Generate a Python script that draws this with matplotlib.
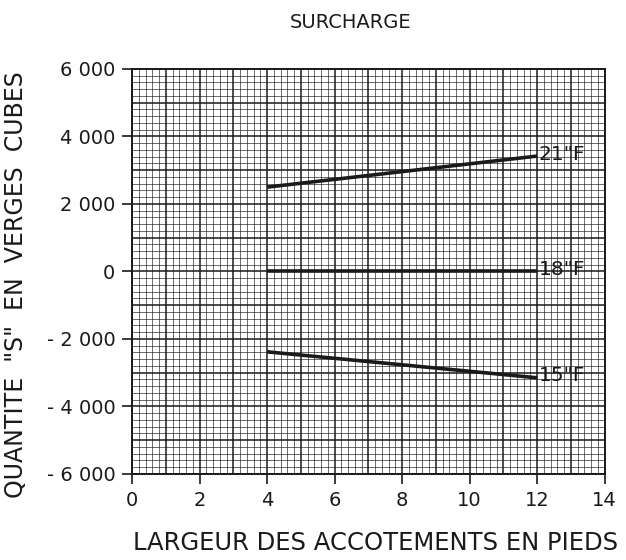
import numpy as np
import matplotlib
matplotlib.use("Agg")
from matplotlib import pyplot as plt
from matplotlib.ticker import MultipleLocator, FuncFormatter

# values
largeur = [4, 12]
s_21 = [2500, 3420]
s_18 = [0, 0]
s_15 = [-2380, -3150]
labels = ['21"F', '18"F', '15"F']

plt.rcParams['font.family'] = ['DejaVu Sans']

fig = plt.figure(figsize=(6.26, 5.6), dpi=100)
fig.patch.set_facecolor("white")
ax = fig.add_axes([0.211, 0.1536, 0.755, 0.7232])

ink = "#1a1a1a"
ax.set_xlim(0, 14)
ax.set_ylim(-6000, 6000)

# graph paper
ax.xaxis.set_major_locator(MultipleLocator(2))
ax.yaxis.set_major_locator(MultipleLocator(2000))
for x in np.arange(0, 14.01, 0.2):
    heavy = abs(x - round(x)) < 1e-6
    ax.axvline(x, color=ink, lw=1.1 if heavy else 0.45, zorder=1)
for y in np.arange(-6000, 6001, 200):
    heavy = y % 1000 == 0
    ax.axhline(y, color=ink, lw=1.1 if heavy else 0.45, zorder=1)

for serie, lab in zip([s_21, s_18, s_15], labels):
    ax.plot(largeur, serie, color=ink, lw=2.6, solid_capstyle="butt", zorder=3)
    ax.text(largeur[-1] + 0.05, serie[-1] + 60, lab, fontsize=14.5, color=ink,
            va="center", ha="left", zorder=4)

def fmt(v, pos):
    v = int(round(v))
    if v == 0:
        return "0"
    s = "{:,}".format(abs(v)).replace(",", " ")
    return ("- " + s) if v < 0 else s

ax.yaxis.set_major_formatter(FuncFormatter(fmt))
ax.tick_params(direction="out", length=7, width=1.2, colors=ink,
               labelsize=14, pad=5)
for sp in ax.spines.values():
    sp.set_linewidth(1.4)
    sp.set_color(ink)

fig.text(0.6, 0.03, "LARGEUR DES ACCOTEMENTS EN PIEDS", fontsize=17.5,
         color=ink, ha="center", va="center")
fig.text(0.026, 0.491, 'QUANTITE  "S"  EN  VERGES  CUBES', fontsize=17,
         color=ink, ha="center", va="center", rotation=90)
fig.text(0.56, 0.96, "SURCHARGE", fontsize=14, color=ink, ha="center", va="center")

fig.savefig("out.png", dpi=100)
